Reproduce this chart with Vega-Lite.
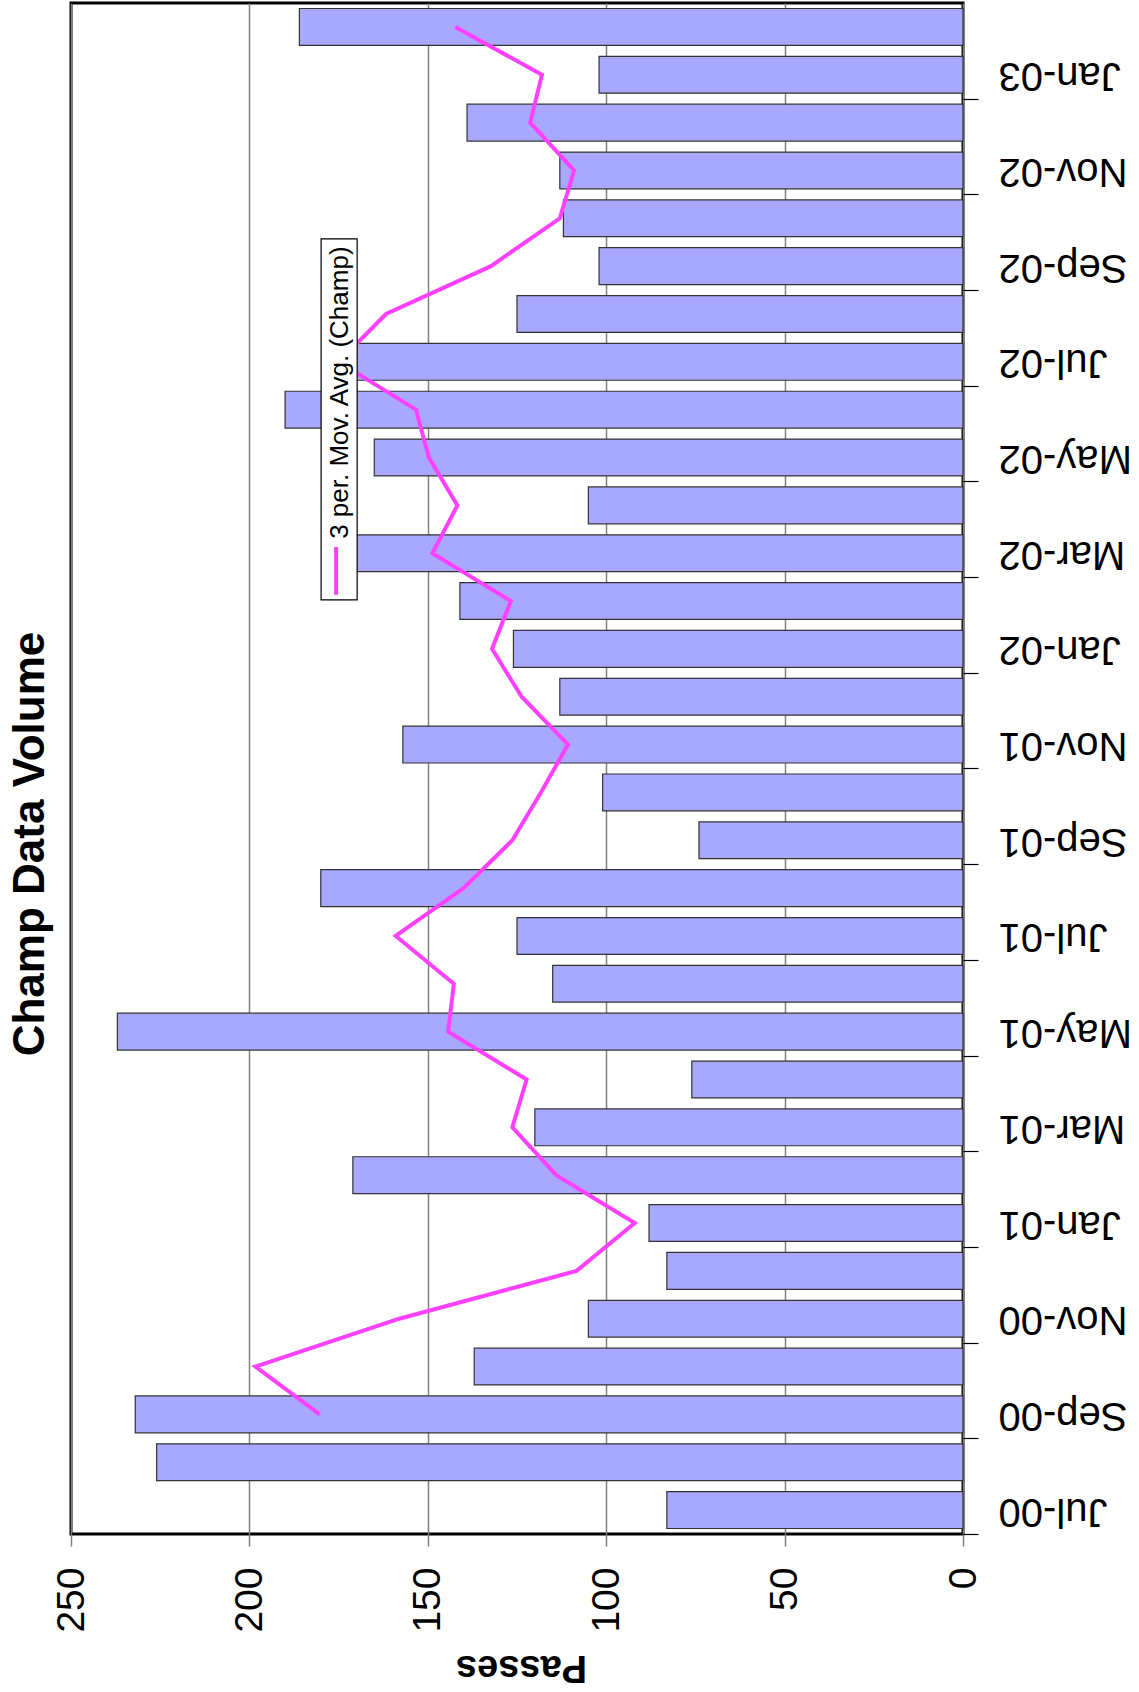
{
  "$schema": "https://vega.github.io/schema/vega-lite/v6.json",
  "autosize": {"type": "none"},
  "width": 892,
  "height": 1531,
  "padding": {"left": 71, "top": 3, "right": 176, "bottom": 158},
  "background": "white",
  "title": {
    "text": "Champ Data Volume",
    "orient": "left",
    "anchor": "middle",
    "frame": "bounds",
    "angle": 270,
    "baseline": "alphabetic",
    "offset": -36,
    "font": "Liberation Sans",
    "fontSize": 44,
    "fontWeight": "bold",
    "color": "black"
  },
  "config": {
    "view": {"stroke": "black", "strokeWidth": 3},
    "axis": {"labelFont": "Liberation Sans", "titleFont": "Liberation Sans", "labelColor": "black", "titleColor": "black"}
  },
  "datasets": {
    "champ": [
      {"m": "Jul-00", "v": 83, "avg": null},
      {"m": "Aug-00", "v": 226, "avg": null},
      {"m": "Sep-00", "v": 232, "avg": 180.3},
      {"m": "Oct-00", "v": 137, "avg": 198.3},
      {"m": "Nov-00", "v": 105, "avg": 158},
      {"m": "Dec-00", "v": 83, "avg": 108.3},
      {"m": "Jan-01", "v": 88, "avg": 92},
      {"m": "Feb-01", "v": 171, "avg": 114},
      {"m": "Mar-01", "v": 120, "avg": 126.3},
      {"m": "Apr-01", "v": 76, "avg": 122.3},
      {"m": "May-01", "v": 237, "avg": 144.3},
      {"m": "Jun-01", "v": 115, "avg": 142.7},
      {"m": "Jul-01", "v": 125, "avg": 159},
      {"m": "Aug-01", "v": 180, "avg": 140},
      {"m": "Sep-01", "v": 74, "avg": 126.3},
      {"m": "Oct-01", "v": 101, "avg": 118.3},
      {"m": "Nov-01", "v": 157, "avg": 110.7},
      {"m": "Dec-01", "v": 113, "avg": 123.7},
      {"m": "Jan-02", "v": 126, "avg": 132},
      {"m": "Feb-02", "v": 141, "avg": 126.7},
      {"m": "Mar-02", "v": 179, "avg": 148.7},
      {"m": "Apr-02", "v": 105, "avg": 141.7},
      {"m": "May-02", "v": 165, "avg": 149.7},
      {"m": "Jun-02", "v": 190, "avg": 153.3},
      {"m": "Jul-02", "v": 170, "avg": 175},
      {"m": "Aug-02", "v": 125, "avg": 161.7},
      {"m": "Sep-02", "v": 102, "avg": 132.3},
      {"m": "Oct-02", "v": 112, "avg": 113},
      {"m": "Nov-02", "v": 113, "avg": 109},
      {"m": "Dec-02", "v": 139, "avg": 121.3},
      {"m": "Jan-03", "v": 102, "avg": 118},
      {"m": "Feb-03", "v": 186, "avg": 142.3}
    ],
    "legend": [{"label": "3 per. Mov. Avg. (Champ)"}]
  },
  "data": {"name": "champ"},
  "layer": [
    {
      "mark": {"type": "bar", "fill": "#a8a8ff", "stroke": "#333333", "strokeWidth": 1.2},
      "encoding": {
        "y": {
          "field": "m",
          "type": "ordinal",
          "scale": {
            "domain": ["Feb-03","Jan-03","Dec-02","Nov-02","Oct-02","Sep-02","Aug-02","Jul-02","Jun-02","May-02","Apr-02","Mar-02","Feb-02","Jan-02","Dec-01","Nov-01","Oct-01","Sep-01","Aug-01","Jul-01","Jun-01","May-01","Apr-01","Mar-01","Feb-01","Jan-01","Dec-00","Nov-00","Oct-00","Sep-00","Aug-00","Jul-00"],
            "paddingInner": 0.23,
            "paddingOuter": 0.115
          },
          "axis": {
            "orient": "right",
            "title": null,
            "values": ["Jul-00","Sep-00","Nov-00","Jan-01","Mar-01","May-01","Jul-01","Sep-01","Nov-01","Jan-02","Mar-02","May-02","Jul-02","Sep-02","Nov-02","Jan-03"],
            "domain": false,
            "grid": false,
            "ticks": true,
            "tickColor": "black",
            "tickWidth": 1.2,
            "tickSize": 15,
            "tickOffset": 23.92,
            "labelOffset": -23.92,
            "labelAngle": 180,
            "labelAlign": "right",
            "labelBaseline": "middle",
            "labelFontSize": 40,
            "labelPadding": 20,
            "labelOverlap": false
          }
        },
        "x": {
          "field": "v",
          "type": "quantitative",
          "scale": {"domain": [0, 250], "reverse": true, "nice": false},
          "axis": {
            "orient": "bottom",
            "values": [0, 50, 100, 150, 200, 250],
            "grid": true,
            "gridColor": "#808080",
            "gridWidth": 1.5,
            "domain": false,
            "tickColor": "#808080",
            "tickWidth": 1.5,
            "tickSize": 12,
            "labelAngle": 270,
            "labelAlign": "right",
            "labelBaseline": "middle",
            "labelFontSize": 39,
            "labelPadding": 21,
            "labelOverlap": false,
            "title": "Passes",
            "titleAngle": 180,
            "titleFontSize": 38,
            "titleFontWeight": "bold",
            "titleAlign": "center",
            "titleBaseline": "alphabetic",
            "titleX": 450,
            "titleY": 121
          }
        }
      }
    },
    {
      "transform": [{"filter": "datum.avg != null"}],
      "mark": {"type": "line", "color": "#ff40ff", "strokeWidth": 4},
      "encoding": {
        "y": {"field": "m", "type": "ordinal"},
        "x": {"field": "avg", "type": "quantitative"},
        "order": {"value": null}
      }
    },
    {
      "data": {"name": "legend"},
      "mark": {"type": "rect", "fill": "white", "stroke": "black", "strokeWidth": 1.2},
      "encoding": {
        "x": {"datum": 179.9, "type": "quantitative"},
        "x2": {"datum": 169.8},
        "y": {"datum": "Oct-02", "type": "ordinal", "bandPosition": 1.06},
        "y2": {"datum": "Feb-02", "bandPosition": 0.47}
      }
    },
    {
      "data": {"name": "legend"},
      "mark": {"type": "rule", "color": "#ff40ff", "strokeWidth": 4},
      "encoding": {
        "x": {"datum": 175.7, "type": "quantitative"},
        "y": {"datum": "Mar-02", "type": "ordinal", "bandPosition": 0.33},
        "y2": {"datum": "Feb-02", "bandPosition": 0.33}
      }
    },
    {
      "data": {"name": "legend"},
      "mark": {"type": "text", "angle": 270, "align": "left", "baseline": "alphabetic", "font": "Liberation Sans", "fontSize": 26, "color": "black"},
      "encoding": {
        "x": {"datum": 172.4, "type": "quantitative"},
        "y": {"datum": "Mar-02", "type": "ordinal", "bandPosition": 0.11},
        "text": {"field": "label"}
      }
    }
  ]
}
